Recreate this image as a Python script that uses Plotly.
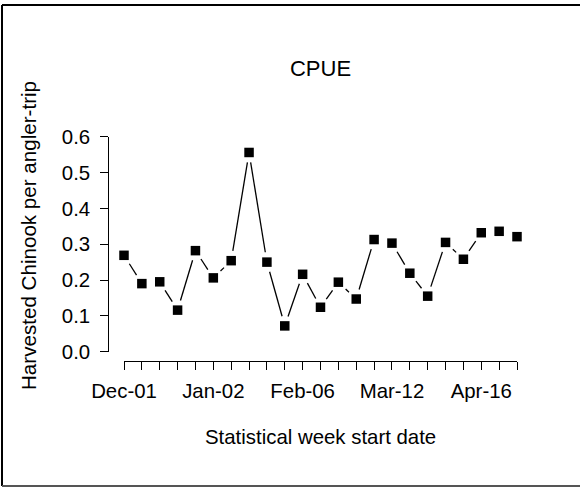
import math
import plotly.graph_objects as go

# weekly CPUE values
weeks = list(range(1, 24))
cpue = [0.269, 0.190, 0.195, 0.116, 0.282, 0.206, 0.254, 0.556, 0.250, 0.072,
        0.216, 0.124, 0.194, 0.147, 0.313, 0.303, 0.219, 0.155, 0.305, 0.258,
        0.332, 0.336, 0.321]

label_weeks = [1, 6, 11, 16, 21]
label_text = ["Dec-01", "Jan-02", "Feb-06", "Mar-12", "Apr-16"]

y_ticks = [0.0, 0.1, 0.2, 0.3, 0.4, 0.5, 0.6]

W, H = 580, 487
font = "Liberation Sans, Arial, sans-serif"
fs = 20.4

# plot box in pixels
x_left, x_right = 124, 517
y_bot, y_top = 351.7, 136.7
x_range = [1, 23]
y_range = [0, 0.6]

tick_text = []
for w in weeks:
    tick_text.append(label_text[label_weeks.index(w)] if w in label_weeks else "")

# R type="b": segments stop short of each point by a fixed pixel gap
gap = 10
sx = (x_right - x_left) / (x_range[1] - x_range[0])
sy = (y_bot - y_top) / (y_range[1] - y_range[0])
seg_x, seg_y = [], []
for i in range(len(weeks) - 1):
    x1, x2 = weeks[i], weeks[i + 1]
    y1, y2 = cpue[i], cpue[i + 1]
    d = math.hypot((x2 - x1) * sx, (y2 - y1) * sy)
    if d <= 2 * gap:
        continue
    t = gap / d
    seg_x += [x1 + (x2 - x1) * t, x2 - (x2 - x1) * t, None]
    seg_y += [y1 + (y2 - y1) * t, y2 - (y2 - y1) * t, None]

fig = go.Figure()
fig.add_trace(go.Scatter(x=seg_x, y=seg_y, mode="lines",
                         line=dict(color="black", width=1.3),
                         hoverinfo="skip", showlegend=False))
fig.add_trace(go.Scatter(x=weeks, y=cpue, mode="markers", cliponaxis=False,
                         marker=dict(symbol="square", size=9.5, color="black",
                                     line=dict(width=0)),
                         showlegend=False))

fig.update_layout(
    width=W, height=H,
    margin=dict(l=0, r=0, t=0, b=0),
    paper_bgcolor="white", plot_bgcolor="white",
    font=dict(family=font, size=fs, color="black"),
    title=dict(text="CPUE", font=dict(family=font, size=22, color="black"),
               x=320.5 / W, xanchor="center", xref="paper",
               y=1 - 68 / H, yanchor="middle", yref="container"),
    xaxis=dict(domain=[x_left / W, x_right / W], range=x_range,
               anchor="free", position=1 - 360.7 / H,
               showgrid=False, zeroline=False,
               showline=True, linecolor="black", linewidth=1,
               ticks="outside", ticklen=8, tickwidth=1, tickcolor="black",
               tickvals=weeks, ticktext=tick_text, ticklabelstandoff=4,
               automargin=False),
    yaxis=dict(domain=[1 - y_bot / H, 1 - y_top / H], range=y_range,
               anchor="free", position=108.3 / W,
               showgrid=False, zeroline=False,
               showline=True, linecolor="black", linewidth=1,
               ticks="outside", ticklen=8, tickwidth=1, tickcolor="black",
               tickvals=y_ticks, tickformat=".1f", ticklabelstandoff=6,
               automargin=False),
    annotations=[
        dict(text="Statistical week start date", xref="paper", yref="paper",
             x=320.5 / W, y=1 - 436.7 / H, xanchor="center", yanchor="middle",
             showarrow=False, font=dict(family=font, size=fs, color="black")),
        dict(text="Harvested Chinook per angler-trip", xref="paper", yref="paper",
             x=28 / W, y=1 - 236 / H, xanchor="center", yanchor="middle",
             textangle=-90, showarrow=False,
             font=dict(family=font, size=20.6, color="black")),
    ],
    # frame round the picture: top, left and bottom edges only
    shapes=[
        dict(type="line", xref="paper", yref="paper",
             x0=2 / W, x1=1, y0=1 - 5 / H, y1=1 - 5 / H,
             line=dict(color="black", width=2)),
        dict(type="line", xref="paper", yref="paper",
             x0=2 / W, x1=2 / W, y0=1 / H, y1=1 - 5 / H,
             line=dict(color="black", width=2)),
        dict(type="line", xref="paper", yref="paper",
             x0=2 / W, x1=1, y0=1 / H, y1=1 / H,
             line=dict(color="#555555", width=2)),
    ],
)

# page margin off so the figure sits at the window corner
fig.write_html("out.html", config={"displayModeBar": False},
               post_script="document.body.style.margin='0';")
